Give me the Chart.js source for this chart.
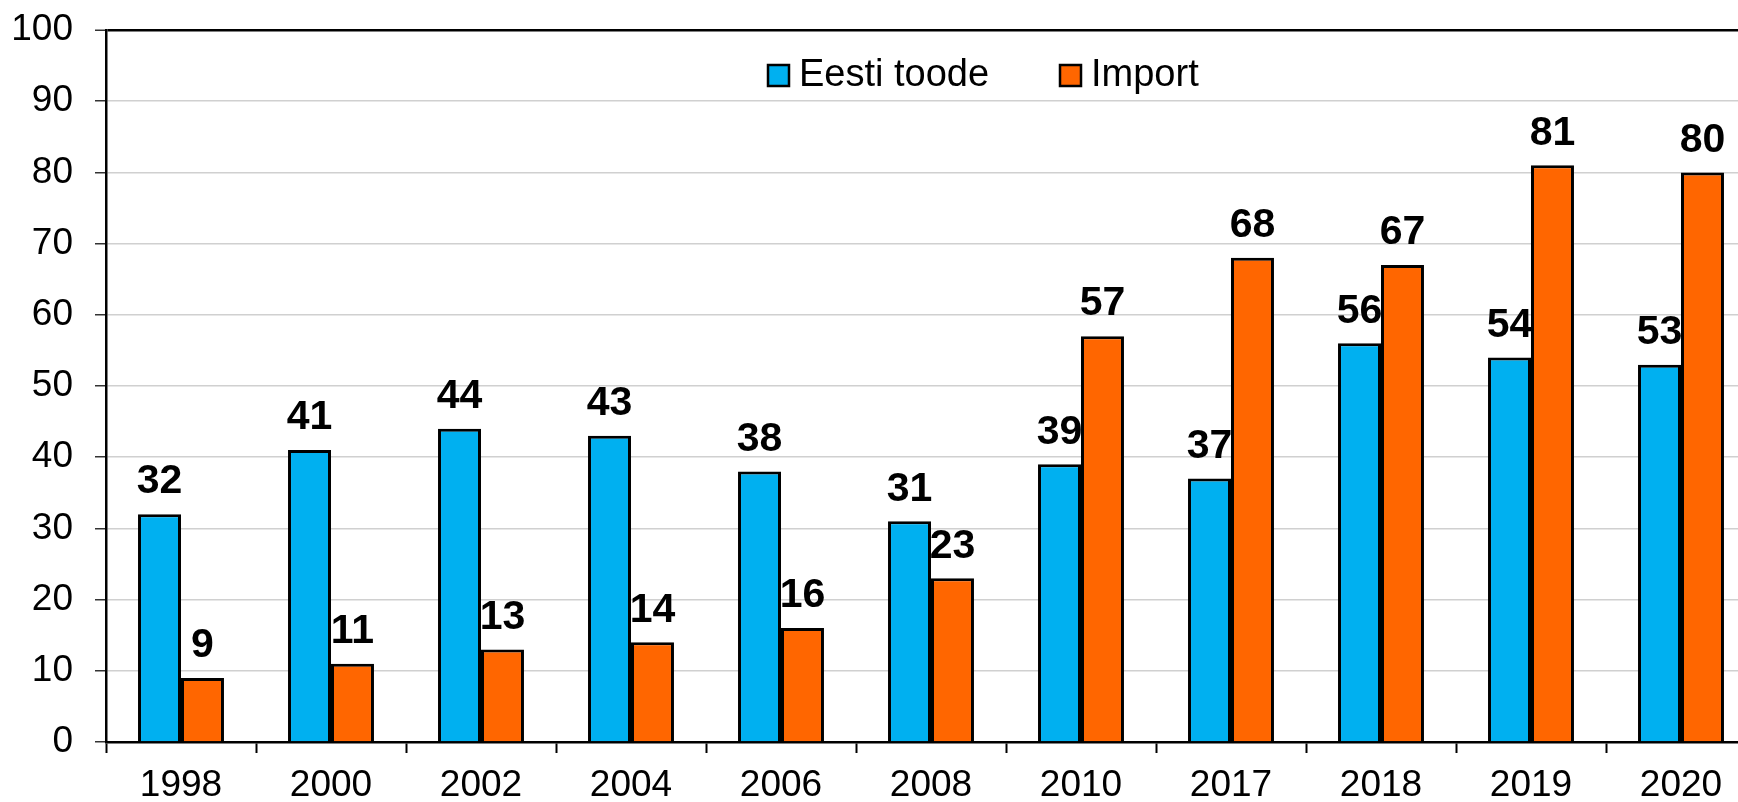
<!DOCTYPE html>
<html>
<head>
<meta charset="utf-8">
<script src="https://cdn.jsdelivr.net/npm/chart.js@4"></script>
<style>
  html, body { margin: 0; padding: 0; overflow: hidden; background: #fff; }
  #wrap { width: 1760px; height: 820px; }
</style>
</head>
<body>
<div id="wrap"><canvas id="chart"></canvas></div>
<script>
const years = ['1998', '2000', '2002', '2004', '2006', '2008', '2010', '2017', '2018', '2019', '2020'];
const eesti = [32, 41, 44, 43, 38, 31, 39, 37, 56, 54, 53];
const importVals = [9, 11, 13, 14, 16, 23, 57, 68, 67, 81, 80];
const seriesNames = ['Eesti toode', 'Import'];
const yTicks = [0, 10, 20, 30, 40, 50, 60, 70, 80, 90, 100];

const FONT = '"Liberation Sans", Arial, sans-serif';

// value labels above bars
const valueLabels = {
  id: 'valueLabels',
  afterDatasetsDraw(chart) {
    const ctx = chart.ctx;
    ctx.save();
    ctx.font = 'bold 41px ' + FONT;
    ctx.fillStyle = '#000';
    ctx.textAlign = 'center';
    ctx.textBaseline = 'middle';
    chart.data.datasets.forEach((ds, i) => {
      chart.getDatasetMeta(i).data.forEach((bar, j) => {
        ctx.fillText(ds.data[j], bar.x, bar.y - 32);
      });
    });
    ctx.restore();
  }
};

// legend drawn inside the plot, near the top
const innerLegend = {
  id: 'innerLegend',
  afterDraw(chart) {
    const ctx = chart.ctx;
    const starts = [768, 1060];
    ctx.save();
    ctx.font = '38px ' + FONT;
    ctx.textBaseline = 'middle';
    ctx.textAlign = 'left';
    chart.data.datasets.forEach((ds, i) => {
      const x = starts[i];
      const y = 65;
      ctx.fillStyle = ds.backgroundColor;
      ctx.fillRect(x, y, 21, 21);
      ctx.lineWidth = 2.5;
      ctx.strokeStyle = '#000';
      ctx.strokeRect(x, y, 21, 21);
      ctx.fillStyle = '#000';
      ctx.fillText(ds.label, x + 31, y + 11);
    });
    ctx.restore();
  }
};

new Chart(document.getElementById('chart'), {
  type: 'bar',
  data: {
    labels: years,
    datasets: [
      { label: seriesNames[0], data: eesti, backgroundColor: '#00B0F0', borderColor: '#000', borderWidth: 3 },
      { label: seriesNames[1], data: importVals, backgroundColor: '#FF6600', borderColor: '#000', borderWidth: 3 }
    ]
  },
  options: {
    responsive: true,
    maintainAspectRatio: false,
    animation: false,
    layout: { autoPadding: false, padding: { top: 30, right: 4, left: 0, bottom: 0 } },
    datasets: { bar: { categoryPercentage: 0.573, barPercentage: 1.0 } },
    plugins: { legend: { display: false }, tooltip: { enabled: false } },
    scales: {
      x: {
        grid: { drawOnChartArea: false, drawTicks: true, tickLength: 11, tickColor: '#000', tickWidth: 2 },
        border: { color: '#000', width: 2.5 },
        ticks: { color: '#000', font: { family: FONT, size: 37 }, padding: 11, maxRotation: 0, autoSkip: false },
        afterFit(scale) {
          scale.height = 78;
          scale.paddingLeft = scale.paddingRight = scale.paddingTop = scale.paddingBottom = 0;
        }
      },
      y: {
        min: 0,
        max: 100,
        afterBuildTicks(scale) { scale.ticks = yTicks.map(v => ({ value: v })); },
        grid: {
          color: c => (c.tick && c.tick.value === 100 ? '#000' : '#d0d0d0'),
          lineWidth: c => (c.tick && c.tick.value === 100 ? 2.5 : 1.5),
          tickLength: 11,
          tickColor: '#333',
          tickWidth: 1.5
        },
        border: { color: '#000', width: 2.5 },
        ticks: { color: '#000', font: { family: FONT, size: 37 }, padding: 22 },
        afterFit(scale) {
          scale.width = 106;
          scale.paddingLeft = scale.paddingRight = scale.paddingTop = scale.paddingBottom = 0;
        }
      }
    }
  },
  plugins: [valueLabels, innerLegend]
});
</script>
</body>
</html>
